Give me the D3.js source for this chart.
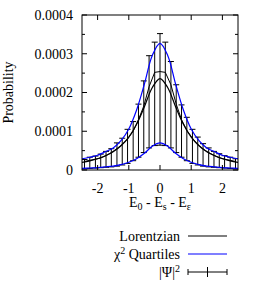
<!DOCTYPE html>
<html>
<head>
<meta charset="utf-8">
<script src="https://cdn.jsdelivr.net/npm/d3@7"></script>
<style>
  body { margin: 0; background: #fff; }
  svg text { font-family: "Liberation Serif", "DejaVu Serif", serif; font-size: 14px; fill: #000; }
</style>
</head>
<body>
<div id="chart"></div>
<script>
// smooth curves, sampled every 0.25 (probability)
var curveX = [-2.5, -2.25, -2, -1.75, -1.5, -1.25, -1, -0.75, -0.5, -0.25, 0,
              0.25, 0.5, 0.75, 1, 1.25, 1.5, 1.75, 2, 2.25, 2.5];
var lorentz = [0.195e-4, 0.236e-4, 0.291e-4, 0.366e-4, 0.472e-4, 0.625e-4, 0.850e-4, 1.18e-4, 1.634e-4, 2.124e-4, 2.36e-4,
               2.124e-4, 1.634e-4, 1.18e-4, 0.850e-4, 0.625e-4, 0.472e-4, 0.366e-4, 0.291e-4, 0.236e-4, 0.195e-4];
var quartHigh = [0.29e-4, 0.33e-4, 0.38e-4, 0.47e-4, 0.57e-4, 0.76e-4, 1.06e-4, 1.55e-4, 2.22e-4, 2.95e-4, 3.27e-4,
                 2.95e-4, 2.22e-4, 1.55e-4, 1.06e-4, 0.76e-4, 0.57e-4, 0.47e-4, 0.38e-4, 0.33e-4, 0.29e-4];
var quartLow = [0.042e-4, 0.052e-4, 0.063e-4, 0.08e-4, 0.10e-4, 0.14e-4, 0.20e-4, 0.29e-4, 0.43e-4, 0.61e-4, 0.70e-4,
                0.61e-4, 0.43e-4, 0.29e-4, 0.20e-4, 0.14e-4, 0.10e-4, 0.08e-4, 0.063e-4, 0.052e-4, 0.042e-4];

// |Psi|^2 points with error bars
var psiX = [-2.42, -2.25, -2.07, -1.90, -1.73, -1.56, -1.38, -1.21, -1.04, -0.86, -0.69, -0.52, -0.35, -0.17, 0.00,
            0.17, 0.35, 0.52, 0.69, 0.86, 1.04, 1.21, 1.38, 1.56, 1.73, 1.90, 2.07, 2.25, 2.42];
var psiY = [0.22e-4, 0.25e-4, 0.28e-4, 0.31e-4, 0.37e-4, 0.45e-4, 0.55e-4, 0.66e-4, 0.80e-4, 1.00e-4, 1.30e-4, 1.65e-4, 2.15e-4, 2.52e-4, 2.54e-4,
            2.52e-4, 2.20e-4, 1.70e-4, 1.30e-4, 1.02e-4, 0.82e-4, 0.66e-4, 0.54e-4, 0.45e-4, 0.38e-4, 0.32e-4, 0.28e-4, 0.25e-4, 0.22e-4];
var psiLow = [0.03e-4, 0.04e-4, 0.05e-4, 0.06e-4, 0.07e-4, 0.08e-4, 0.10e-4, 0.13e-4, 0.17e-4, 0.24e-4, 0.33e-4, 0.45e-4, 0.57e-4, 0.63e-4, 0.64e-4,
              0.63e-4, 0.57e-4, 0.45e-4, 0.33e-4, 0.24e-4, 0.17e-4, 0.13e-4, 0.10e-4, 0.08e-4, 0.07e-4, 0.06e-4, 0.05e-4, 0.04e-4, 0.03e-4];
var psiHigh = [0.27e-4, 0.33e-4, 0.36e-4, 0.41e-4, 0.48e-4, 0.55e-4, 0.70e-4, 0.82e-4, 1.05e-4, 1.25e-4, 1.70e-4, 2.30e-4, 2.95e-4, 3.30e-4, 3.52e-4,
               3.30e-4, 2.80e-4, 2.20e-4, 1.68e-4, 1.36e-4, 1.05e-4, 0.85e-4, 0.68e-4, 0.57e-4, 0.48e-4, 0.42e-4, 0.37e-4, 0.33e-4, 0.29e-4];

var xTicks = [-2, -1, 0, 1, 2];
var yTicks = [0, 0.0001, 0.0002, 0.0003, 0.0004];
var yTickLabels = ["0", "0.0001", "0.0002", "0.0003", "0.0004"];
var yMinor = [0.00005, 0.00015, 0.00025, 0.00035];

var width = 275, height = 285;
var plot = {left: 82, right: 238, top: 15, bottom: 170};

var svg = d3.select("#chart").append("svg")
    .attr("width", width)
    .attr("height", height);

var x = d3.scaleLinear().domain([-2.5, 2.5]).range([plot.left, plot.right]);
var y = d3.scaleLinear().domain([0, 0.0004]).range([plot.bottom, plot.top]);

svg.append("clipPath").attr("id", "clip")
  .append("rect")
    .attr("x", plot.left).attr("y", plot.top)
    .attr("width", plot.right - plot.left).attr("height", plot.bottom - plot.top);

var g = svg.append("g").attr("clip-path", "url(#clip)");

// error bars + data line
var psi = psiX.map(function (d, i) {
    return {x: d, y: psiY[i], lo: psiLow[i], hi: psiHigh[i]};
});
var cap = 3;
var bars = g.append("g").attr("stroke", "#000").attr("stroke-width", 1);
bars.selectAll(".eb").data(psi).enter().append("line")
    .attr("x1", function (d) { return x(d.x); })
    .attr("x2", function (d) { return x(d.x); })
    .attr("y1", function (d) { return y(d.lo); })
    .attr("y2", function (d) { return y(d.hi); });
bars.selectAll(".capHi").data(psi).enter().append("line")
    .attr("x1", function (d) { return x(d.x) - cap; })
    .attr("x2", function (d) { return x(d.x) + cap; })
    .attr("y1", function (d) { return y(d.hi); })
    .attr("y2", function (d) { return y(d.hi); });
bars.selectAll(".capLo").data(psi).enter().append("line")
    .attr("x1", function (d) { return x(d.x) - cap; })
    .attr("x2", function (d) { return x(d.x) + cap; })
    .attr("y1", function (d) { return y(d.lo); })
    .attr("y2", function (d) { return y(d.lo); });

g.append("path")
    .datum(psi)
    .attr("fill", "none").attr("stroke", "#000").attr("stroke-width", 1)
    .attr("d", d3.line().x(function (d) { return x(d.x); }).y(function (d) { return y(d.y); }));

// smooth curves
function curve(vals, color) {
    g.append("path")
        .datum(curveX.map(function (d, i) { return [d, vals[i]]; }))
        .attr("fill", "none").attr("stroke", color).attr("stroke-width", 1.2)
        .attr("d", d3.line().curve(d3.curveCatmullRom)
            .x(function (d) { return x(d[0]); }).y(function (d) { return y(d[1]); }));
}
curve(quartLow, "#0000ff");
curve(quartHigh, "#0000ff");
curve(lorentz, "#000");

// frame and ticks (inward, mirrored)
svg.append("rect")
    .attr("x", plot.left).attr("y", plot.top)
    .attr("width", plot.right - plot.left).attr("height", plot.bottom - plot.top)
    .attr("fill", "none").attr("stroke", "#000").attr("stroke-width", 1);

var ticks = svg.append("g").attr("stroke", "#000").attr("stroke-width", 1);
xTicks.forEach(function (t) {
    ticks.append("line").attr("x1", x(t)).attr("x2", x(t)).attr("y1", plot.bottom).attr("y2", plot.bottom - 5);
    ticks.append("line").attr("x1", x(t)).attr("x2", x(t)).attr("y1", plot.top).attr("y2", plot.top + 5);
});
yTicks.forEach(function (t) {
    ticks.append("line").attr("x1", plot.left).attr("x2", plot.left + 5).attr("y1", y(t)).attr("y2", y(t));
    ticks.append("line").attr("x1", plot.right).attr("x2", plot.right - 5).attr("y1", y(t)).attr("y2", y(t));
});
yMinor.forEach(function (t) {
    ticks.append("line").attr("x1", plot.left).attr("x2", plot.left + 3).attr("y1", y(t)).attr("y2", y(t));
    ticks.append("line").attr("x1", plot.right).attr("x2", plot.right - 3).attr("y1", y(t)).attr("y2", y(t));
});

// tick labels
svg.selectAll(".ytl").data(yTicks).enter().append("text")
    .attr("x", plot.left - 9)
    .attr("y", function (d) { return y(d); })
    .attr("dy", "0.35em")
    .attr("text-anchor", "end")
    .text(function (d, i) { return yTickLabels[i]; });

svg.selectAll(".xtl").data(xTicks).enter().append("text")
    .attr("x", function (d) { return x(d); })
    .attr("y", plot.bottom + 18)
    .attr("dy", "0.35em")
    .attr("text-anchor", "middle")
    .text(function (d) { return d; });

// axis titles
svg.append("text")
    .attr("transform", "translate(13," + ((plot.top + plot.bottom) / 2) + ") rotate(-90)")
    .attr("text-anchor", "middle")
    .text("Probability");

var xl = svg.append("text")
    .attr("x", (plot.left + plot.right) / 2)
    .attr("y", 207)
    .attr("text-anchor", "middle");
xl.append("tspan").text("E");
xl.append("tspan").attr("dy", 3).style("font-size", "10px").text("0");
xl.append("tspan").attr("dy", -3).text(" - E");
xl.append("tspan").attr("dy", 3).style("font-size", "10px").text("s");
xl.append("tspan").attr("dy", -3).text(" - E");
xl.append("tspan").attr("dy", 3).style("font-size", "10px").text("ε");

// legend
var legX = 180, legL0 = 188, legL1 = 227;
var legY = [236, 254, 272];

svg.append("text").attr("x", legX).attr("y", legY[0]).attr("dy", "0.35em")
    .attr("text-anchor", "end").text("Lorentzian");
svg.append("line").attr("x1", legL0).attr("x2", legL1).attr("y1", legY[0]).attr("y2", legY[0])
    .attr("stroke", "#000").attr("stroke-width", 1.2);

var t2 = svg.append("text").attr("x", legX).attr("y", legY[1]).attr("dy", "0.35em")
    .attr("text-anchor", "end");
t2.append("tspan").text("χ");
t2.append("tspan").attr("dy", -5).style("font-size", "10px").text("2");
t2.append("tspan").attr("dy", 5).text(" Quartiles");
svg.append("line").attr("x1", legL0).attr("x2", legL1).attr("y1", legY[1]).attr("y2", legY[1])
    .attr("stroke", "#0000ff").attr("stroke-width", 1.2);

var t3 = svg.append("text").attr("x", legX).attr("y", legY[2]).attr("dy", "0.35em")
    .attr("text-anchor", "end");
t3.append("tspan").text("|Ψ|");
t3.append("tspan").attr("dy", -5).style("font-size", "10px").text("2");
var lg = svg.append("g").attr("stroke", "#000").attr("stroke-width", 1);
lg.append("line").attr("x1", legL0).attr("x2", legL1).attr("y1", legY[2]).attr("y2", legY[2]);
lg.append("line").attr("x1", legL0).attr("x2", legL0).attr("y1", legY[2] - 3).attr("y2", legY[2] + 3);
lg.append("line").attr("x1", legL1).attr("x2", legL1).attr("y1", legY[2] - 3).attr("y2", legY[2] + 3);
lg.append("line").attr("x1", (legL0 + legL1) / 2).attr("x2", (legL0 + legL1) / 2)
    .attr("y1", legY[2] - 5).attr("y2", legY[2] + 5);
</script>
</body>
</html>
